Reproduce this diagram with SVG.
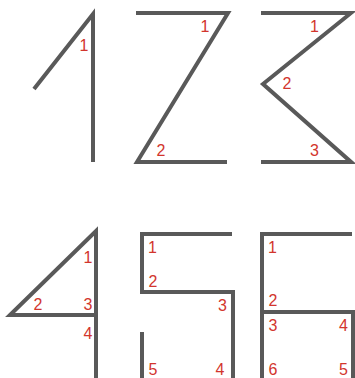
<svg xmlns="http://www.w3.org/2000/svg" width="355" height="378" viewBox="0 0 355 378">
<style>
.s{fill:none;stroke:#595959;stroke-width:4;stroke-linejoin:miter;stroke-miterlimit:20;stroke-linecap:butt}
.t{font-family:"Liberation Sans",Arial,sans-serif;font-size:16px;fill:#d2352d;text-anchor:middle}
</style>
<rect width="355" height="378" fill="#fff"/>
<g id="digit1">
<path class="s" d="M34,89 L93,14 L93,162"/>
<text class="t" x="84" y="51">1</text>
</g>
<g id="digit2">
<path class="s" d="M136,13 L228,13 L137,162 L227,162"/>
<text class="t" x="205" y="32">1</text>
<text class="t" x="161" y="156">2</text>
</g>
<g id="digit3">
<path class="s" d="M261,13 L351,13 L263,84 L351,162 L261,162"/>
<text class="t" x="314.5" y="32">1</text>
<text class="t" x="287" y="89">2</text>
<text class="t" x="314.5" y="156">3</text>
</g>
<g id="digit4">
<path class="s" d="M96,378 L96,231 L10,315 L96,315"/>
<text class="t" x="88" y="263">1</text>
<text class="t" x="38" y="310">2</text>
<text class="t" x="88" y="310">3</text>
<text class="t" x="88" y="339">4</text>
</g>
<g id="digit5">
<path class="s" d="M232,234 L142,234 L142,292 L233,292 L233,378"/>
<path class="s" d="M142,332 L142,378"/>
<text class="t" x="152.5" y="253">1</text>
<text class="t" x="153" y="287">2</text>
<text class="t" x="222.5" y="311">3</text>
<text class="t" x="220" y="375">4</text>
<text class="t" x="153" y="375">5</text>
</g>
<g id="digit6">
<path class="s" d="M352,234 L262,234 L262,378"/>
<path class="s" d="M262,312 L353,312 L353,378"/>
<text class="t" x="272.5" y="253">1</text>
<text class="t" x="273" y="306">2</text>
<text class="t" x="273" y="331">3</text>
<text class="t" x="343.5" y="331">4</text>
<text class="t" x="273" y="375">6</text>
<text class="t" x="343.5" y="375">5</text>
</g>
</svg>
